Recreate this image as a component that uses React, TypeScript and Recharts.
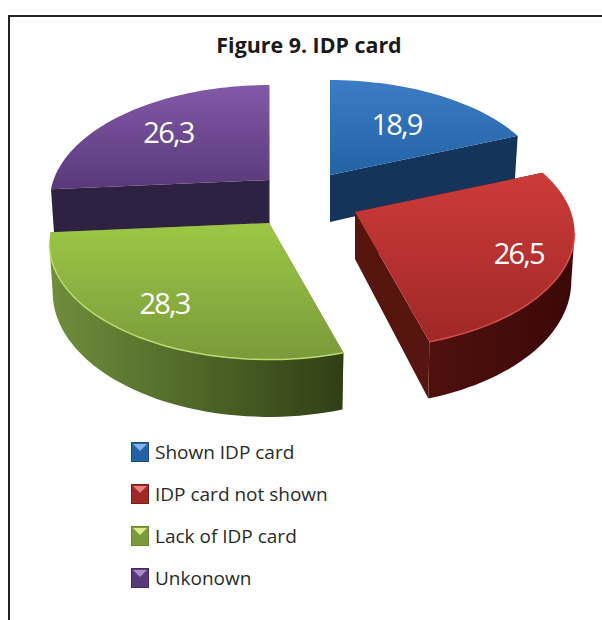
import React from "react";
import { PieChart, Pie, Legend } from "recharts";

const categories = ["Shown IDP card", "IDP card not shown", "Lack of IDP card", "Unkonown"];
const shares = [18.9, 26.5, 28.3, 26.3];

// purple goes first so that the slices paint back to front
const paintOrder = [3, 0, 1, 2];

const topColors = [
  ["#3d7cc4", "#2263a6"],
  ["#cc3b39", "#a02826"],
  ["#9cc745", "#7a9a3b"],
  ["#8259a8", "#59397a"],
];
const radialColors = ["#14345a", "#57150f", "#55702e", "#2f2142"];
const bandColors = [
  ["#14345a", "#14345a"],
  ["#4e110e", "#3c0808"],
  ["#6f8f3c", "#2f3f14"],
  ["#2f2142", "#2f2142"],
];
const rimColors = ["#3d7cc4", "#d8504c", "#b9dc6c", "#8259a8"];
const swatchGlow = ["#7fb4e6", "#e8807c", "#dcec8c", "#ab8ccc"];

// where each slice's tip ends up after the explosion, relative to the pie centre
const explode = [
  [30, -45],
  [55, -8],
  [-31, 3],
  [-30.5, -40],
];
const labelRadius = [0.6, 0.79, 0.76, 0.69];

const W = 602;
const H = 620;
const CX = 300;
const CY = 220;
const A = 216;
const B = 112;
const K = 0.18;
const DEPTH = 47;
const FONT = '"Open Sans", sans-serif';

const total = shares.reduce((s, v) => s + v, 0);
const rows = paintOrder.map((i) => ({ name: categories[i], value: shares[i], idx: i }));
const startAngle = 90 + (360 * shares[paintOrder[0]]) / total;

function project(theta: number, r: number) {
  const t = (theta * Math.PI) / 180;
  const u = r * Math.sin(t);
  const v = r * Math.cos(t);
  const w = 1 + K * v;
  return { x: (A * u) / w, y: (-B * v) / w, d: DEPTH / w };
}

function arcPoints(from: number, to: number) {
  const out = [];
  const n = Math.max(2, Math.ceil((to - from) / 2));
  for (let i = 0; i <= n; i++) out.push(project(from + ((to - from) * i) / n, 1));
  return out;
}

const line = (pts: { x: number; y: number }[], ox: number, oy: number) =>
  pts.map((p, i) => `${i ? "L" : "M"}${(p.x + ox).toFixed(1)},${(p.y + oy).toFixed(1)}`).join(" ");

const lower = (p: { x: number; y: number; d: number }) => ({ x: p.x * 0.985, y: p.y + p.d, d: p.d });

function Slice3D(props: any) {
  const idx = props.idx ?? props.payload?.idx;
  const [dx, dy] = explode[idx];
  const ox = CX + dx;
  const oy = CY + dy;
  const from = 90 - props.startAngle;
  const to = 90 - props.endAngle;
  const tip = { x: 0, y: 0, d: DEPTH };
  const arc = arcPoints(from, to);
  const first = arc[0];
  const last = arc[arc.length - 1];

  const lo = Math.max(from, 100.4);
  const hi = Math.min(to, 259.6);
  const front = hi > lo ? arcPoints(lo, hi) : null;

  return (
    <g>
      <path d={line([tip, first, lower(first), lower(tip)], ox, oy) + " Z"} fill={radialColors[idx]} />
      <path d={line([tip, last, lower(last), lower(tip)], ox, oy) + " Z"} fill={radialColors[idx]} />
      {front && (
        <path
          d={line([...front, ...front.slice().reverse().map(lower)], ox, oy) + " Z"}
          fill={`url(#band${idx})`}
        />
      )}
      <path d={line([tip, ...arc], ox, oy) + " Z"} fill={`url(#top${idx})`} />
      {front && <path d={line(front, ox, oy)} fill="none" stroke={rimColors[idx]} strokeWidth={1.5} />}
    </g>
  );
}

function SliceLabel(props: any) {
  const idx = props.idx ?? props.payload?.idx;
  const [dx, dy] = explode[idx];
  const p = project(90 - props.midAngle, labelRadius[idx]);
  return (
    <text
      x={CX + dx + p.x}
      y={CY + dy + p.y}
      fill="#fff"
      fontFamily={FONT}
      fontSize={29}
      letterSpacing={-1.8}
      textAnchor="middle"
      dominantBaseline="central"
    >
      {shares[idx].toFixed(1).replace(".", ",")}
    </text>
  );
}

function Swatch({ idx }: { idx: number }) {
  return (
    <svg width={18} height={20} style={{ display: "block" }}>
      <rect width={18} height={20} fill={topColors[idx][1]} />
      <polygon points="2,2 16,2 9,9" fill={swatchGlow[idx]} />
      <rect x={0.5} y={0.5} width={17} height={19} fill="none" stroke={radialColors[idx]} strokeOpacity={0.5} />
    </svg>
  );
}

function ChartLegend() {
  return (
    <div>
      {categories.map((name, i) => (
        <div key={name} style={{ display: "flex", alignItems: "center", height: 42, fontFamily: FONT, fontSize: 19, color: "#2a2a2a" }}>
          <Swatch idx={i} />
          <span style={{ marginLeft: 6 }}>{name}</span>
        </div>
      ))}
    </div>
  );
}

export default function App() {
  return (
    <div style={{ position: "fixed", left: 0, top: 0, width: W, height: H, background: "#fff", overflow: "hidden" }}>
      <div style={{ position: "absolute", left: 8, top: 15, right: 0, bottom: 0, borderTop: "2px solid #222", borderLeft: "2px solid #222" }} />
      <PieChart width={W} height={H} style={{ position: "absolute", left: 0, top: 0 }} margin={{ top: 0, right: 0, bottom: 0, left: 0 }}>
        <defs>
          {topColors.map((c, i) => (
            <linearGradient key={i} id={`top${i}`} x1="0" y1="0" x2="0" y2="1">
              <stop offset="0%" stopColor={c[0]} />
              <stop offset="100%" stopColor={c[1]} />
            </linearGradient>
          ))}
          {bandColors.map((c, i) => (
            <linearGradient key={i} id={`band${i}`} x1="0" y1="0" x2="1" y2="0">
              <stop offset="0%" stopColor={c[0]} />
              <stop offset="100%" stopColor={c[1]} />
            </linearGradient>
          ))}
        </defs>
        <text x={309} y={53} textAnchor="middle" fontFamily={FONT} fontWeight={700} fontSize={21.4} fill="#1a1a1a">
          Figure 9. IDP card
        </text>
        <Pie
          data={rows}
          dataKey="value"
          nameKey="name"
          cx={CX}
          cy={CY}
          outerRadius={100}
          startAngle={startAngle}
          endAngle={startAngle - 360}
          stroke="none"
          shape={Slice3D}
          label={SliceLabel}
          labelLine={false}
          isAnimationActive={false}
        />
        <Legend
          layout="vertical"
          content={<ChartLegend />}
          wrapperStyle={{ position: "absolute", left: 131, top: 431, width: 300, bottom: "auto", right: "auto" }}
        />
      </PieChart>
    </div>
  );
}
